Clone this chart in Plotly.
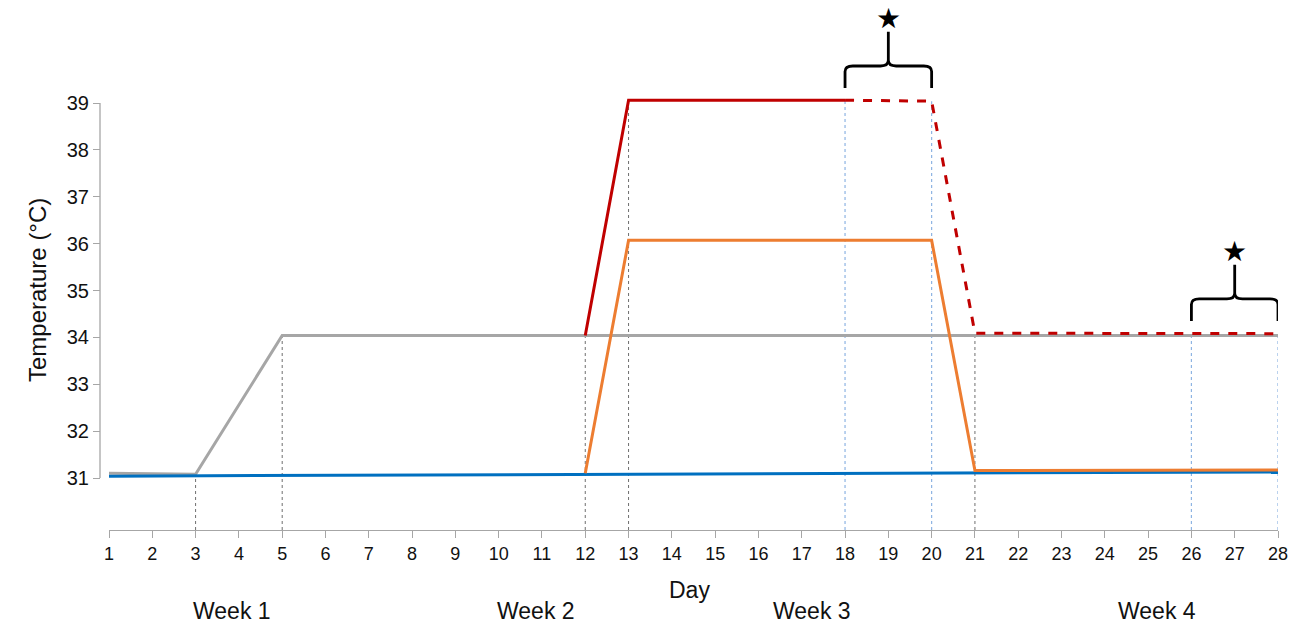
import plotly.graph_objects as go

# ---- data ----
days = list(range(1, 29))
blue_x = [1, 28]
blue_y = [31.04, 31.13]
gray_x = [1, 3, 5, 28]
gray_y = [31.1, 31.08, 34.04, 34.04]
red_solid_x = [12, 13, 18]
red_solid_y = [34.04, 39.06, 39.06]
red_dash_x = [18, 20, 21, 28]
red_dash_y = [39.06, 39.04, 34.09, 34.08]
orange_x = [12, 13, 20, 21, 28]
orange_y = [31.1, 36.07, 36.07, 31.16, 31.17]

# vertical guide lines
gray_vline_days = [3, 5, 12, 13, 21]
gray_vline_tops = [31.08, 34.04, 34.04, 39.06, 34.09]
blue_vline_days = [18, 20, 26, 28]
blue_vline_tops = [39.06, 39.04, 34.08, 34.08]

# significance brackets (start day, end day, base value)
brackets = [(18, 20, 39.05), (26, 28, 34.08)]

y_ticks = list(range(31, 40))
week_labels = ["Week 1", "Week 2", "Week 3", "Week 4"]
week_pos = [3.84, 10.86, 17.24, 25.2]

Y_MIN, Y_MAX = 29.891, 41.198
FONT = "Liberation Sans, Arial, sans-serif"

fig = go.Figure()

# vertical dotted guides
for d, t in zip(gray_vline_days, gray_vline_tops):
    fig.add_trace(go.Scatter(x=[d, d], y=[Y_MIN, t], mode="lines",
                             line=dict(color="#6f6f6f", width=1, dash="dot"),
                             hoverinfo="skip", showlegend=False))
for d, t in zip(blue_vline_days, blue_vline_tops):
    fig.add_trace(go.Scatter(x=[d, d], y=[Y_MIN, t], mode="lines",
                             line=dict(color="#8eb4e3", width=1.2, dash="dot"),
                             hoverinfo="skip", showlegend=False))

LW = 3
fig.add_trace(go.Scatter(x=gray_x, y=gray_y, mode="lines",
                         line=dict(color="#a6a6a6", width=LW), showlegend=False))
fig.add_trace(go.Scatter(x=blue_x, y=blue_y, mode="lines",
                         line=dict(color="#0070c0", width=LW), showlegend=False))
fig.add_trace(go.Scatter(x=orange_x, y=orange_y, mode="lines",
                         line=dict(color="#ed7d31", width=LW), showlegend=False))
fig.add_trace(go.Scatter(x=red_solid_x, y=red_solid_y, mode="lines",
                         line=dict(color="#c00000", width=LW), showlegend=False))
fig.add_trace(go.Scatter(x=red_dash_x, y=red_dash_y, mode="lines",
                         line=dict(color="#c00000", width=LW, dash="dash"),
                         showlegend=False))

shapes = []
annotations = []
# y axis line only spanning 31..39
shapes.append(dict(type="line", xref="paper", yref="y", x0=0, x1=0,
                   y0=y_ticks[0], y1=y_ticks[-1],
                   line=dict(color="#a6a6a6", width=1.3)))

# braces
for (a, b, base) in brackets:
    yb = base + 0.27
    yh = yb + 0.47
    yt = yb + 1.2
    xm = (a + b) / 2
    rx, ry = 0.18, 0.12
    p = (f"M {a},{yb} L {a},{yh-ry} Q {a},{yh} {a+rx},{yh} "
         f"L {xm-rx},{yh} Q {xm},{yh} {xm},{yh+ry} L {xm},{yt} "
         f"M {b},{yb} L {b},{yh-ry} Q {b},{yh} {b-rx},{yh} "
         f"L {xm+rx},{yh} Q {xm},{yh} {xm},{yh+ry}")
    shapes.append(dict(type="path", xref="x", yref="y", path=p,
                       line=dict(color="black", width=2.8)))
    annotations.append(dict(x=xm, y=yb + 1.49, xref="x", yref="y", text="★",
                            showarrow=False, font=dict(size=28, color="black",
                                                       family="DejaVu Sans")))

annotations.append(dict(x=0.5, y=0, xref="paper", yref="paper", yanchor="middle",
                        yshift=-60, text="Day", showarrow=False,
                        font=dict(size=23, color="#111", family=FONT)))
for lab, pos in zip(week_labels, week_pos):
    annotations.append(dict(x=pos, y=0, xref="x", yref="paper", yanchor="middle",
                            yshift=-81, text=lab, showarrow=False,
                            font=dict(size=23, color="#111", family=FONT)))
annotations.append(dict(x=0, y=(31 + 39) / 2 - 0.0, xref="paper", yref="y",
                        xshift=-78, text="Temperature (°C)", textangle=-90,
                        showarrow=False, font=dict(size=24, color="#111", family=FONT)))

fig.update_layout(
    width=1303, height=624,
    margin=dict(l=100, r=25, t=0, b=94),
    paper_bgcolor="white", plot_bgcolor="white",
    font=dict(family=FONT, size=17, color="#222"),
    shapes=shapes, annotations=annotations,
    xaxis=dict(domain=[9 / 1178, 1], range=[1, 28], tickvals=days,
               showline=True, linecolor="#a6a6a6", linewidth=1.3,
               ticks="outside", ticklen=7, tickcolor="#a6a6a6", tickwidth=1.3,
               showgrid=False, zeroline=False, tickfont=dict(size=18, color="#111")),
    yaxis=dict(anchor="free", position=0, range=[Y_MIN, Y_MAX], tickvals=y_ticks,
               showline=False, ticks="outside", ticklen=7, tickcolor="#a6a6a6",
               tickwidth=1.3, showgrid=False, zeroline=False,
               tickfont=dict(size=20, color="#111")),
)

fig.write_html("out.html", config={"displayModeBar": False},
               post_script="document.body.style.margin='0';document.body.style.overflow='hidden';")
